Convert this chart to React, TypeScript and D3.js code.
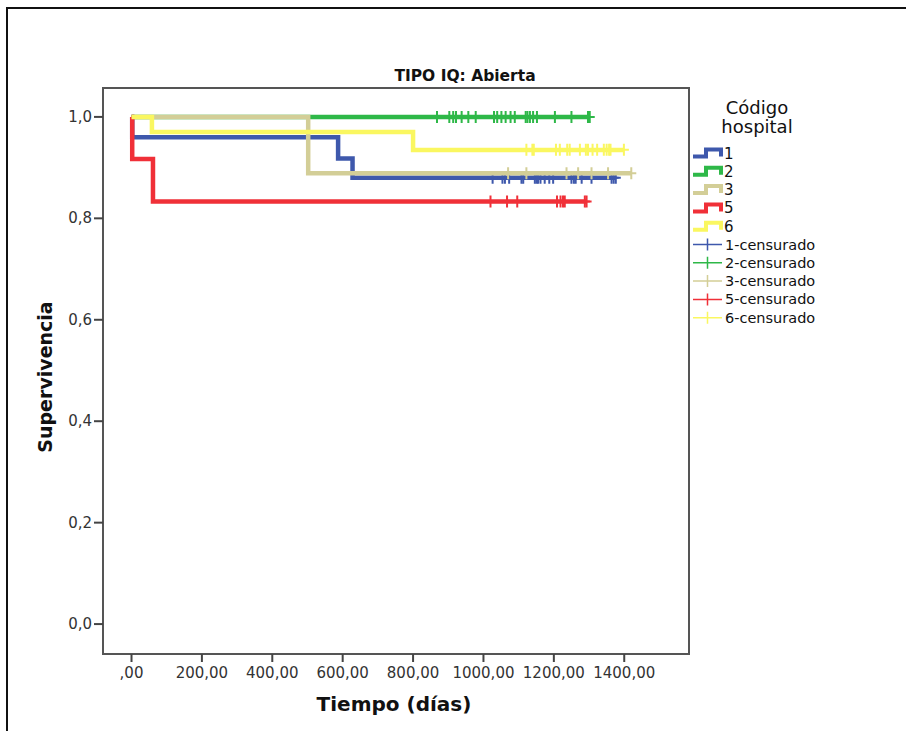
import React from "react";
import * as d3 from "d3";

// Kaplan-Meier curves, TIPO IQ: Abierta
const groups = ["1", "2", "3", "5", "6"];
const colors = ["#3E58AC", "#2EB848", "#D3CE97", "#F03038", "#FAF760"];

// event times (days) and survival after each event
const eventTimes = [[2, 587, 628], [], [502], [2, 61], [58, 800]];
const survival = [[0.96, 0.918, 0.88], [], [0.889], [0.917, 0.833], [0.97, 0.935]];

// censored times per group
const censored1 = [1026, 1054, 1061, 1073, 1108, 1113, 1146, 1151, 1155, 1162, 1174, 1187, 1198, 1250, 1257, 1262, 1279, 1307, 1364, 1370, 1376];
const censored2 = [868, 903, 914, 922, 938, 957, 978, 1030, 1039, 1051, 1063, 1077, 1089, 1120, 1125, 1132, 1141, 1152, 1203, 1250, 1297, 1302];
const censored3 = [1070, 1122, 1236, 1269, 1307, 1354, 1420];
const censored5 = [1020, 1067, 1096, 1209, 1219, 1226, 1231, 1288, 1293];
const censored6 = [1122, 1139, 1143, 1206, 1217, 1238, 1245, 1274, 1291, 1297, 1310, 1323, 1342, 1350, 1357, 1361, 1399];
const censoredAll = [censored1, censored2, censored3, censored5, censored6];

const xTicks = [0, 200, 400, 600, 800, 1000, 1200, 1400];
const xTickLabels = [",00", "200,00", "400,00", "600,00", "800,00", "1000,00", "1200,00", "1400,00"];
const yTicks = [0, 0.2, 0.4, 0.6, 0.8, 1.0];
const yTickLabels = ["0,0", "0,2", "0,4", "0,6", "0,8", "1,0"];

const W = 906;
const H = 731;
const left = 103, right = 689, top = 88, bottom = 654;
const font = "'DejaVu Sans', sans-serif";

export default function App() {
  const x = d3.scaleLinear().domain([-81, 1584]).range([left, right]);
  const y = d3.scaleLinear().domain([-0.059, 1.057]).range([bottom, top]);

  const line = d3
    .line<[number, number]>()
    .x((d) => x(d[0]))
    .y((d) => y(d[1]))
    .curve(d3.curveStepAfter);

  const series = groups.map((g, i) => {
    const pts: [number, number][] = [[0, 1]];
    eventTimes[i].forEach((t, j) => pts.push([t, survival[i][j]]));
    const last = pts[pts.length - 1][1];
    const endT = d3.max(censoredAll[i]) as number;
    pts.push([endT, last]);
    // survival at a censored time
    const surv = (t: number) => {
      let s = 1;
      eventTimes[i].forEach((e, j) => {
        if (e <= t) s = survival[i][j];
      });
      return s;
    };
    return { g, color: colors[i], path: line(pts), marks: censoredAll[i].map((t) => [t, surv(t)]) };
  });

  const legendY = (k: number) => 153 + k * 18.3;

  return (
    <svg width={W} height={H} style={{ position: "absolute", left: 0, top: 0, background: "#fff" }}>
      {/* outer frame */}
      <rect x={7} y={8} width={1000} height={1000} fill="none" stroke="#111" strokeWidth={2} />

      {/* title */}
      <text x={465} y={81} textAnchor="middle" fontFamily={font} fontWeight="bold" fontSize={15.5} fill="#111">
        TIPO IQ: Abierta
      </text>

      {/* plot box */}
      <rect x={left} y={top} width={right - left} height={bottom - top} fill="none" stroke="#555" strokeWidth={2} />

      {/* y axis ticks */}
      {yTicks.map((v, i) => (
        <g key={"y" + i}>
          <line x1={left - 9} x2={left} y1={y(v)} y2={y(v)} stroke="#444" strokeWidth={2} />
          <text x={left - 11} y={y(v) + 5} textAnchor="end" fontFamily={font} fontSize={15} fill="#333">
            {yTickLabels[i]}
          </text>
        </g>
      ))}

      {/* x axis ticks */}
      {xTicks.map((v, i) => (
        <g key={"x" + i}>
          <line x1={x(v)} x2={x(v)} y1={bottom} y2={bottom + 8} stroke="#444" strokeWidth={2} />
          <text x={x(v)} y={bottom + 24} textAnchor="middle" fontFamily={font} fontSize={15} fill="#333">
            {xTickLabels[i]}
          </text>
        </g>
      ))}

      {/* axis titles */}
      <text
        transform={`translate(52,${(top + bottom) / 2 + 6}) rotate(-90)`}
        textAnchor="middle"
        fontFamily={font}
        fontWeight="bold"
        fontSize={19}
        fill="#111"
      >
        Supervivencia
      </text>
      <text x={394} y={711} textAnchor="middle" fontFamily={font} fontWeight="bold" fontSize={20} fill="#111">
        Tiempo (días)
      </text>

      {/* curves */}
      {series.map((s) => (
        <g key={"c" + s.g}>
          <path d={s.path || ""} fill="none" stroke={s.color} strokeWidth={4.5} />
          {s.marks.map((m, j) => (
            <path
              key={j}
              d={`M${x(m[0]) - 5},${y(m[1])}H${x(m[0]) + 5}M${x(m[0])},${y(m[1]) - 6}V${y(m[1]) + 6}`}
              stroke={s.color}
              strokeWidth={2}
              fill="none"
            />
          ))}
        </g>
      ))}

      {/* legend */}
      <text x={757} y={114} textAnchor="middle" fontFamily={font} fontSize={18} fill="#111">
        Código
      </text>
      <text x={757} y={133} textAnchor="middle" fontFamily={font} fontSize={18} fill="#111">
        hospital
      </text>
      {groups.map((g, i) => {
        const ly = legendY(i);
        return (
          <g key={"l" + g}>
            <path
              d={`M693,${ly + 3.5}H706V${ly - 3.5}H721V${ly + 3.5}`}
              fill="none"
              stroke={colors[i]}
              strokeWidth={4}
            />
            <text x={724} y={ly + 5.5} fontFamily={font} fontSize={15} fill="#111">
              {g}
            </text>
          </g>
        );
      })}
      {groups.map((g, i) => {
        const ly = legendY(i + 5);
        return (
          <g key={"lc" + g}>
            <path d={`M693,${ly}H722M707.5,${ly - 6}V${ly + 6}`} fill="none" stroke={colors[i]} strokeWidth={1.5} />
            <text x={725} y={ly + 5} fontFamily={font} fontSize={14.5} fill="#111">
              {g}-censurado
            </text>
          </g>
        );
      })}
    </svg>
  );
}
